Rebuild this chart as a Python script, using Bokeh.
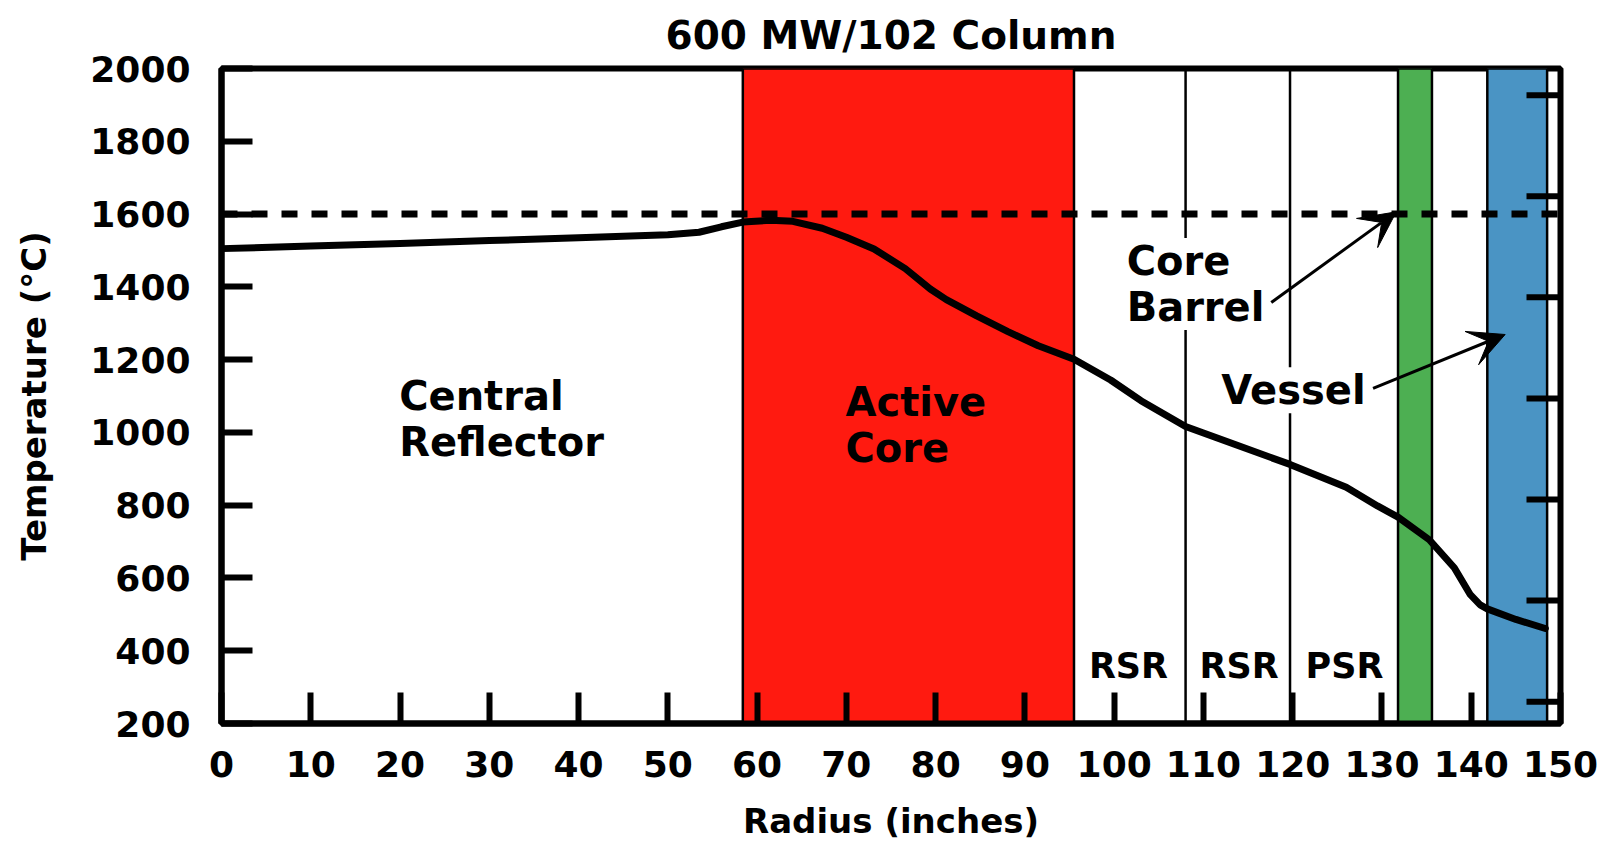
import math
from bokeh.plotting import figure
from bokeh.models import (Range1d, FixedTicker, Label, Arrow, VeeHead, Span,
                          ColumnDataSource)
from bokeh.embed import file_html
from bokeh.resources import INLINE

# ---------------- data ----------------
radius = [0, 10, 20, 30, 40, 50, 53.5, 56, 58.4, 61.5, 64, 67.3, 70, 73.1,
          76.6, 79.4, 81.2, 84.6, 88.1, 91.5, 95.5, 99.6, 103.0, 108.0, 113.4,
          119.7, 126.0, 129.5, 131.8, 135.3, 138.1, 139.9, 141.0, 141.8, 145.0,
          148.3]
temperature = [1505, 1512, 1519, 1527, 1535, 1543, 1550, 1565, 1578, 1583, 1580,
               1561, 1536, 1504, 1450, 1394, 1365, 1320, 1277, 1238, 1201, 1144,
               1087, 1016, 968, 912, 849, 798, 767, 705, 628, 554, 526, 515, 486,
               461]

zone_left = [58.4, 131.8, 141.8]
zone_right = [95.5, 135.6, 148.5]
zone_color = ["#FF1A10", "#4DAF52", "#4A94C4"]

divider_x = [108.0, 119.7]
limit_temp = 1600

x_ticks = [0, 10, 20, 30, 40, 50, 60, 70, 80, 90, 100, 110, 120, 130, 140, 150]
y_ticks = [200, 400, 600, 800, 1000, 1200, 1400, 1600, 1800, 2000]
f_ticks = [500, 1000, 1500, 2000, 2500, 3000, 3500]   # right-hand (degF) ticks

title_text = "600 MW/102 Column"

region_text = ["Central\nReflector", "Active\nCore", "Core\nBarrel", "Vessel"]
region_x = [19.9, 69.9, 101.4, 112.0]
region_y = [1036, 1019, 1408, 1116]
region_bg = [None, None, "white", "white"]

shield_text = ["RSR", "RSR", "PSR"]
shield_x = [101.6, 114.0, 125.8]
shield_y = [359, 359, 359]

arrow_x0 = [117.6, 129.0]
arrow_y0 = [1357, 1121]
arrow_x1 = [131.6, 143.8]
arrow_y1 = [1606, 1269]

X_MIN, X_MAX = 0, 150
Y_MIN, Y_MAX = 200, 2000

FONT = "DejaVu Sans"

# ---------------- figure ----------------
p = figure(width=1610, height=843, x_range=Range1d(X_MIN, X_MAX),
           y_range=Range1d(Y_MIN, Y_MAX), output_backend="svg",
           toolbar_location=None, min_border_left=221, min_border_right=50,
           min_border_top=68, min_border_bottom=120, title=title_text)
p.title.align = "center"
p.title.text_font = FONT
p.title.text_font_size = "39px"
p.title.text_font_style = "bold"
p.title.text_color = "black"
p.title.standoff = 21

p.xgrid.visible = False
p.ygrid.visible = False
p.outline_line_color = "black"
p.outline_line_width = 6
p.background_fill_color = "white"

# shaded zones
src = ColumnDataSource(dict(left=zone_left, right=zone_right, color=zone_color))
p.quad(left="left", right="right", bottom=Y_MIN, top=Y_MAX, fill_color="color",
       line_color="black", line_width=2.5, source=src)

for xv in divider_x:
    p.add_layout(Span(location=xv, dimension="height", line_color="black",
                      line_width=2.5, level="underlay"))

# right-hand degF ticks (inward, no labels)
f_as_c = [(f - 32) / 1.8 for f in f_ticks]
p.ray(x=[X_MAX] * len(f_as_c), y=f_as_c, length=34, length_units="screen",
      angle=math.pi, line_color="black", line_width=6)

# temperature profile
p.line(radius, temperature, line_color="black", line_width=7,
       line_join="round", line_cap="round")

p.add_layout(Span(location=limit_temp, dimension="width", line_color="black",
                  line_width=7, line_dash="16 14"))

for t, x, y, bg in zip(region_text, region_x, region_y, region_bg):
    p.add_layout(Label(x=x, y=y, text=t, text_font=FONT, text_font_size="40px",
                       text_font_style="bold", text_align="left",
                       text_baseline="middle", text_line_height=1.0,
                       text_color="black", background_fill_color=bg))

for t, x, y in zip(shield_text, shield_x, shield_y):
    p.add_layout(Label(x=x, y=y, text=t, text_font=FONT, text_font_size="35px",
                       text_font_style="bold", text_align="center",
                       text_baseline="middle", text_color="black"))

for xs, ys, xe, ye in zip(arrow_x0, arrow_y0, arrow_x1, arrow_y1):
    p.add_layout(Arrow(end=VeeHead(size=36, fill_color="black",
                                   line_color="black"),
                       x_start=xs, y_start=ys, x_end=xe, y_end=ye,
                       line_color="black", line_width=3))

# axes
for ax in (p.xaxis[0], p.yaxis[0]):
    ax.major_tick_in = 31
    ax.major_tick_out = 0
    ax.minor_tick_line_color = None
    ax.major_tick_line_width = 6
    ax.major_tick_line_color = "black"
    ax.axis_line_width = 6
    ax.axis_line_color = "black"
    ax.major_label_text_font = FONT
    ax.major_label_text_font_style = "bold"
    ax.major_label_text_font_size = "36px"
    ax.major_label_text_color = "black"
    ax.axis_label_text_font = FONT
    ax.axis_label_text_font_style = "bold"
    ax.axis_label_text_font_size = "34px"
    ax.axis_label_text_color = "black"

p.xaxis[0].ticker = FixedTicker(ticks=x_ticks)
p.yaxis[0].ticker = FixedTicker(ticks=y_ticks)
p.xaxis[0].axis_label = "Radius (inches)"
p.yaxis[0].axis_label = "Temperature (°C)"
p.xaxis[0].major_label_standoff = 27
p.xaxis[0].axis_label_standoff = 21
p.yaxis[0].major_label_standoff = 31
p.yaxis[0].axis_label_standoff = 33

open("out.html", "w").write(file_html(p, INLINE))
